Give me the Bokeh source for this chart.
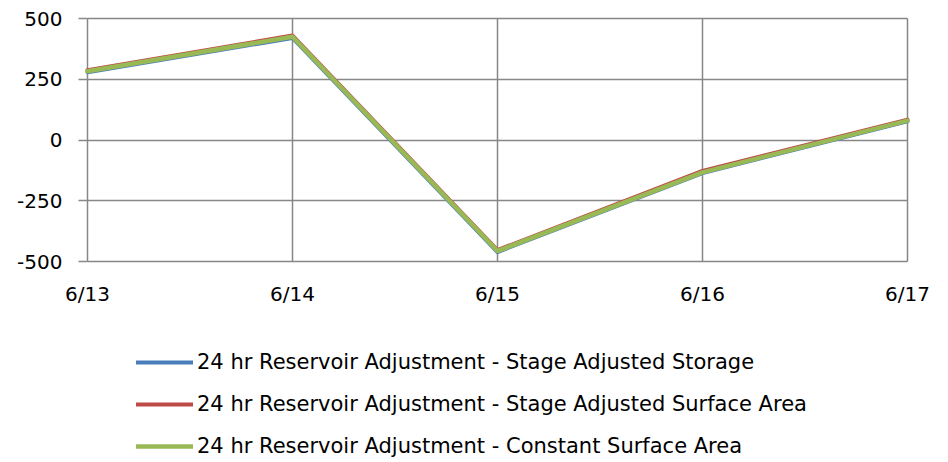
from bokeh.plotting import figure
from bokeh.models import Range1d, FixedTicker, Legend, LegendItem, ColumnDataSource, Grid
from bokeh.embed import file_html
from bokeh.resources import INLINE

dates = ["6/13", "6/14", "6/15", "6/16", "6/17"]
stage_adjusted_storage = [279, 420, -461, -136, 77]
stage_adjusted_surface = [287, 430, -453, -127, 84]
constant_surface = [283, 425, -457, -133, 80]
y_ticks = [-500, -250, 0, 250, 500]

series_names = [
    "24 hr Reservoir Adjustment - Stage Adjusted Storage",
    "24 hr Reservoir Adjustment - Stage Adjusted Surface Area",
    "24 hr Reservoir Adjustment - Constant Surface Area",
]
series_values = [stage_adjusted_storage, stage_adjusted_surface, constant_surface]
series_colors = ["#4A7EBB", "#BE4B48", "#98B954"]
series_widths = [4, 4, 4.5]

x = list(range(len(dates)))

FONT = "DejaVu Sans"
TICK_FONT_SIZE = "20px"
LEGEND_FONT_SIZE = "21px"
GRID = "#878787"

# layout (pixels): the plot box is 87..907 x 18..261; the frame covers the
# whole canvas so that axis labels and the legend outside the box are not clipped
W, H = 948, 462
BOX_LEFT, BOX_RIGHT, BOX_TOP, BOX_BOTTOM = 87, 907, 18, 261
x_per_px = (x[-1] - x[0]) / (BOX_RIGHT - BOX_LEFT)
y_per_px = (y_ticks[-1] - y_ticks[0]) / (BOX_BOTTOM - BOX_TOP)
x_start = x[0] - BOX_LEFT * x_per_px
x_end = x[-1] + (W - BOX_RIGHT) * x_per_px
y_start = y_ticks[0] - (H - BOX_BOTTOM) * y_per_px
y_end = y_ticks[-1] + BOX_TOP * y_per_px

p = figure(
    width=W, height=H,
    min_border_left=0, min_border_right=0, min_border_top=0, min_border_bottom=0,
    x_range=Range1d(x_start, x_end), y_range=Range1d(y_start, y_end),
    output_backend="svg", toolbar_location=None,
)
p.outline_line_color = None
p.background_fill_color = "white"
p.border_fill_color = "white"

xticker = FixedTicker(ticks=x)
yticker = FixedTicker(ticks=y_ticks)
p.xaxis.ticker = xticker
p.yaxis.ticker = yticker
p.xaxis.fixed_location = y_ticks[0]
p.yaxis.fixed_location = x[0]
p.xaxis.major_label_overrides = {i: d for i, d in zip(x, dates)}
p.yaxis.major_label_overrides = {v: str(v) for v in y_ticks}

# grid lines limited to the plot box
has_cross = "cross_bounds" in Grid.properties()
p.xgrid.ticker = xticker
p.ygrid.ticker = yticker
if has_cross:
    p.xgrid.cross_bounds = (y_ticks[0], y_ticks[-1])
    p.ygrid.cross_bounds = (x[0], x[-1])
    for g in (p.xgrid, p.ygrid):
        g.grid_line_color = GRID
        g.grid_line_width = 1.5
else:
    p.xgrid.visible = False
    p.ygrid.visible = False
    p.segment(x0=x, y0=[y_ticks[0]] * len(x), x1=x, y1=[y_ticks[-1]] * len(x),
              line_color=GRID, line_width=1.5)
    p.segment(x0=[x[0]] * len(y_ticks), y0=y_ticks, x1=[x[-1]] * len(y_ticks), y1=y_ticks,
              line_color=GRID, line_width=1.5)

for ax in (p.xaxis, p.yaxis):
    ax.axis_line_color = None
    ax.minor_tick_line_color = None
    ax.major_label_text_font = FONT
    ax.major_label_text_font_size = TICK_FONT_SIZE
    ax.major_label_text_color = "black"
    ax.major_tick_line_color = GRID
    ax.major_tick_line_width = 1.5
    ax.major_tick_in = 0

p.yaxis.major_tick_out = 9
p.yaxis.major_label_standoff = 16
p.xaxis.major_tick_out = 0
p.xaxis.major_tick_line_color = None
p.xaxis.major_label_standoff = 20

items = []
for name, vals, col, w in zip(series_names, series_values, series_colors, series_widths):
    src = ColumnDataSource(dict(x=x, y=vals))
    r = p.line("x", "y", source=src, line_color=col, line_width=w, line_join="round", line_cap="round")
    items.append(LegendItem(label=name, renderers=[r]))

legend = Legend(
    items=items,
    location=(136, -5),
    orientation="vertical",
    glyph_width=57, glyph_height=42, label_height=42,
    label_standoff=4, spacing=0, padding=0, margin=0,
    label_text_font=FONT, label_text_font_size=LEGEND_FONT_SIZE, label_text_color="black",
    background_fill_alpha=0, border_line_color=None,
)
p.add_layout(legend, "center")

open("out.html", "w").write(file_html(p, INLINE))
